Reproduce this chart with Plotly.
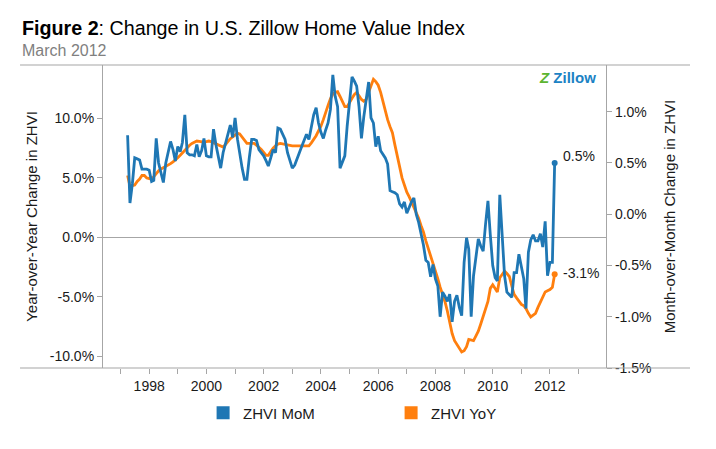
import pandas as pd
import plotly.graph_objects as go

# monthly points, Apr 1997 .. Mar 2012
months = pd.date_range("1997-04-01", periods=180, freq="MS")

# month-over-month change, percent (right axis)
zhvi_mom = [
    0.77, 0.11, 0.30, 0.55, 0.54, 0.53, 0.44, 0.44, 0.44, 0.43,
    0.32, 0.33, 0.74, 0.50, 0.40, 0.31, 0.50, 0.60, 0.71, 0.63,
    0.52, 0.66, 0.61, 0.70, 0.97, 0.60, 0.58, 0.58, 0.57, 0.68,
    0.56, 0.62, 0.74, 0.57, 0.56, 0.56, 0.83, 0.68, 0.55, 0.45,
    0.60, 0.70, 0.78, 0.87, 0.75, 0.94, 0.73, 0.58, 0.45, 0.34,
    0.34, 0.55, 0.73, 0.73, 0.72, 0.63, 0.60, 0.57, 0.52, 0.47,
    0.55, 0.63, 0.60, 0.84, 0.83, 0.78, 0.73, 0.60, 0.52, 0.45,
    0.48, 0.53, 0.60, 0.66, 0.73, 0.78, 0.73, 0.85, 0.97, 1.04,
    0.89, 0.80, 0.74, 0.82, 0.89, 1.02, 1.36, 1.15, 1.05, 0.45,
    0.52, 0.57, 0.86, 1.10, 1.34, 1.30, 1.25, 1.05, 0.74, 0.95,
    1.15, 1.29, 0.94, 0.89, 0.66, 0.76, 0.62, 0.58, 0.55, 0.49,
    0.23, 0.22, 0.21, 0.19, 0.10, 0.07, 0.12, 0.01, 0.07, 0.12,
    0.16, 0.00, -0.08, -0.19, -0.30, -0.45, -0.47, -0.61, -0.49, -0.63,
    -0.70, -1.00, -0.76, -0.80, -0.85, -0.78, -1.05, -0.85, -0.79, -0.91,
    -0.99, -0.47, -0.23, -0.34, -1.00, -0.60, -0.44, -0.24, -0.31, -0.36,
    -0.10, 0.13, -0.20, -0.50, -0.62, -0.65, 0.19, -0.18, -0.60, -0.76,
    -0.79, -0.81, -0.57, -0.57, -0.39, -0.53, -0.63, -0.92, -0.37, -0.25,
    -0.20, -0.26, -0.26, -0.19, -0.32, -0.07, -0.60, -0.47, -0.47, 0.50,
]

# year-over-year change, percent (left axis)
zhvi_yoy = [
    5.2, 4.3, 4.35, 4.4, 4.7, 4.9, 5.2, 5.2, 5.0, 4.95,
    4.9, 5.1, 5.35, 5.6, 5.75, 5.85, 5.95, 6.1, 6.2, 6.35,
    6.5, 6.7, 6.9, 7.1, 7.35, 7.55, 7.75, 7.9, 8.0, 8.1,
    8.07, 8.03, 8.0, 8.05, 8.1, 8.05, 7.95, 7.85, 7.75, 7.7,
    7.6, 7.8, 8.05, 8.3, 8.45, 8.6, 8.75, 8.7, 8.45, 8.2,
    7.9, 7.9, 7.9, 7.9, 7.75, 7.6, 7.4, 7.15, 6.9, 6.9,
    7.25, 7.5, 7.7, 7.85, 7.9, 7.85, 7.8, 7.8, 7.75, 7.7,
    7.7, 7.7, 7.7, 7.7, 7.7, 7.7, 7.7, 7.95, 8.2, 8.55,
    8.95, 9.35, 9.9, 10.55, 11.1, 11.65, 12.05, 12.2, 12.25, 11.85,
    11.4, 11.0, 11.0, 11.3, 11.7, 12.0, 12.2, 11.9, 11.6, 11.45,
    11.6, 12.2, 12.8, 13.3, 13.1, 12.8, 12.2, 11.4, 10.55, 9.9,
    9.3, 8.8, 7.8, 6.8, 5.8, 5.0, 4.4, 3.8, 3.4, 3.0,
    2.5, 2.1, 1.6, 1.0, 0.45, -0.3, -0.9, -1.6, -2.2, -2.8,
    -3.5, -4.2, -4.8, -5.4, -6.2, -7.3, -8.1, -8.7, -9.0, -9.35,
    -9.65, -9.55, -9.2, -8.6, -8.65, -8.7, -8.3, -7.9, -7.3, -6.7,
    -6.1, -5.4, -4.3, -4.0, -4.3, -4.6, -3.4, -3.1, -2.85, -3.05,
    -3.3, -4.1, -4.8, -5.1, -5.4, -5.65, -5.75, -6.0, -6.4, -6.7,
    -6.55, -6.4, -5.9, -5.45, -5.1, -4.6, -4.5, -4.4, -4.2, -3.1,
]

BLUE = "#1f77b4"
ORANGE = "#ff7f0e"
FONT = "Arial, Liberation Sans, sans-serif"
AXIS_GREY = "#a6a6a6"
TEXT = "#1a1a1a"

fig = go.Figure()

fig.add_trace(go.Scatter(
    x=months, y=zhvi_yoy, mode="lines", yaxis="y",
    line=dict(color=ORANGE, width=2.8), showlegend=False, hoverinfo="skip",
))
fig.add_trace(go.Scatter(
    x=months, y=zhvi_mom, mode="lines", yaxis="y2",
    line=dict(color=BLUE, width=2.8), showlegend=False, hoverinfo="skip",
))

# end markers with value labels
fig.add_trace(go.Scatter(
    x=[months[-1]], y=[zhvi_yoy[-1]], mode="markers", yaxis="y",
    marker=dict(color=ORANGE, size=6), showlegend=False, hoverinfo="skip",
))
fig.add_trace(go.Scatter(
    x=[months[-1]], y=[zhvi_mom[-1]], mode="markers", yaxis="y2",
    marker=dict(color=BLUE, size=6), showlegend=False, hoverinfo="skip",
))

# square legend swatches
for name, color in [("ZHVI MoM", BLUE), ("ZHVI YoY", ORANGE)]:
    fig.add_trace(go.Scatter(
        x=[None], y=[None], mode="markers", name=name,
        marker=dict(color=color, size=13, symbol="square"),
    ))

fig.add_annotation(
    x=months[-1], y=zhvi_mom[-1], yref="y2", text="0.5%", showarrow=False,
    xanchor="left", xshift=6, yshift=7, font=dict(size=14, color=TEXT, family=FONT),
)
fig.add_annotation(
    x=months[-1], y=zhvi_yoy[-1], yref="y", text="-3.1%", showarrow=False,
    xanchor="left", xshift=6, yshift=1, font=dict(size=14, color=TEXT, family=FONT),
)

# title block
fig.add_annotation(
    xref="paper", yref="paper", x=-0.165, y=1.0, yshift=37, xanchor="left", yanchor="middle",
    text="<b>Figure 2</b>: Change in U.S. Zillow Home Value Index", showarrow=False,
    font=dict(size=19.7, color="#000000", family=FONT),
)
fig.add_annotation(
    xref="paper", yref="paper", x=-0.165, y=1.0, yshift=15, xanchor="left", yanchor="middle",
    text="March 2012", showarrow=False,
    font=dict(size=16, color="#808080", family=FONT),
)

# zillow mark
fig.add_annotation(
    xref="paper", yref="paper", x=0.985, y=1.0, yshift=-2, xanchor="right", yanchor="top",
    text="<span style='color:#5cb531'><b><i>Z</i></b></span> <b>Zillow</b>",
    showarrow=False, font=dict(size=15, color="#1b82c4", family=FONT),
)

# horizontal frame lines running past the axes
for yy in (0, 1):
    fig.add_shape(
        type="line", xref="paper", yref="paper", x0=-0.165, x1=1.167, y0=yy, y1=yy,
        line=dict(color=AXIS_GREY, width=1.2),
    )

fig.update_layout(
    width=700, height=433,
    margin=dict(l=95, r=102, t=57, b=72),
    paper_bgcolor="white", plot_bgcolor="white",
    font=dict(family=FONT, color=TEXT, size=14),
    xaxis=dict(
        type="date", range=["1996-05-22", "2013-12-16"],
        tick0="1998-01-01", dtick="M24", tickformat="%Y",
        ticks="outside", ticklen=5, tickcolor=AXIS_GREY,
        minor=dict(dtick="M12", ticks="outside", ticklen=5, tickcolor=AXIS_GREY),
        showgrid=False, zeroline=False, showline=False,
        tickfont=dict(size=14),
    ),
    yaxis=dict(
        range=[-11, 14.5], tickvals=[-10, -5, 0, 5, 10],
        ticktext=["-10.0%", "-5.0%", "0.0%", "5.0%", "10.0%"],
        ticks="outside", ticklen=5, tickcolor=AXIS_GREY,
        showline=True, linecolor=AXIS_GREY, linewidth=1.2,
        showgrid=False, zeroline=True, zerolinecolor=AXIS_GREY, zerolinewidth=1.2,
        title=dict(text="Year-over-Year Change in ZHVI", font=dict(size=15), standoff=8),
        tickfont=dict(size=14),
    ),
    yaxis2=dict(
        range=[-1.5, 1.456], overlaying="y", side="right",
        tickvals=[-1.5, -1.0, -0.5, 0.0, 0.5, 1.0],
        ticktext=["-1.5%", "-1.0%", "-0.5%", "0.0%", "0.5%", "1.0%"],
        ticks="outside", ticklen=5, tickcolor=AXIS_GREY,
        showline=True, linecolor=AXIS_GREY, linewidth=1.2,
        showgrid=False, zeroline=False,
        title=dict(text="Month-over-Month Change in ZHVI", font=dict(size=15), standoff=14),
        tickfont=dict(size=14),
    ),
    legend=dict(
        orientation="h", x=0.199, y=-0.145, xanchor="left", yanchor="middle",
        font=dict(size=15), entrywidth=143, entrywidthmode="pixels",
        bgcolor="rgba(0,0,0,0)",
    ),
)

fig.write_html("out.html")
